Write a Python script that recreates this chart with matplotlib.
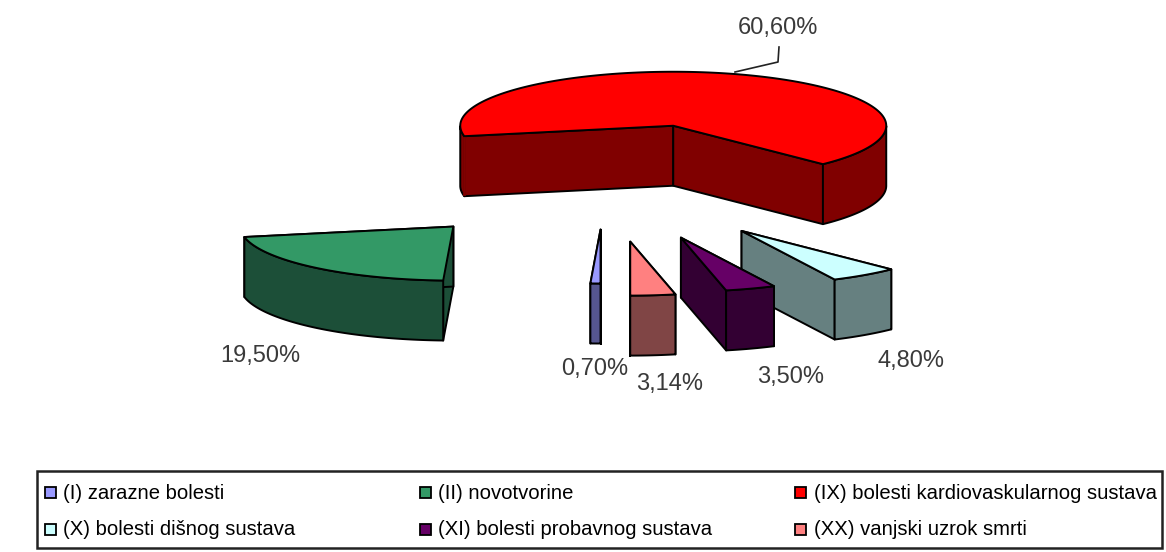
#!/usr/bin/python3
import numpy as np
import matplotlib
matplotlib.use('Agg')
import matplotlib.pyplot as plt
from matplotlib.patches import Polygon, Rectangle

plt.rcParams['font.family'] = ['Liberation Sans', 'DejaVu Sans']

# Share of deaths per disease group, in pie order (clockwise from six o'clock)
categories = ['(I) zarazne bolesti', '(II) novotvorine',
              '(IX) bolesti kardiovaskularnog sustava',
              '(X) bolesti dišnog sustava', '(XI) bolesti probavnog sustava',
              '(XX) vanjski uzrok smrti']
values = [0.70, 19.50, 60.60, 4.80, 3.50, 3.14]
value_labels = ['0,70%', '19,50%', '60,60%', '4,80%', '3,50%', '3,14%']

top_colors = ['#9999FF', '#339966', '#FF0000', '#CCFFFF', '#660066', '#FF8080']
side_colors = ['#565690', '#1C4F38', '#800000', '#668080', '#330033', '#804545']

# How far each slice is pulled out of the pie, in radii
explode = [0.88, 1.09, 1.09, 1.11, 1.09, 1.11]

# Pie geometry in pixels
cx, cy = 605, 182
rx, ry = 213, 54
depth = 60

label_pos = [(595, 369), (260, 356), (778, 28), (911, 361), (791, 377), (670, 384)]

# Legend layout, left to right then top to bottom
legend_x = [45, 420, 795]
legend_text_x = [63, 438, 814]
legend_y = [492, 529]
legend_base = [499, 535]


def ell(t):
    # point on the unit pie for an angle in degrees, y goes down on screen
    t = np.radians(t)
    return np.column_stack([rx * np.cos(t), -ry * np.sin(t)])


def draw_slice(ax, start, end, off, top, side):
    mid = (start + end) / 2
    apex = np.array([cx, cy]) + off * ell(mid)[0]
    arc = apex + ell(np.linspace(start, end, 200))
    drop = np.array([0, depth])
    kw = dict(ec='black', lw=1.4, joinstyle='round')

    # the two cut faces first, the top covers whichever one points backwards
    for p in (arc[0], arc[-1]):
        ax.add_patch(Polygon([apex, p, p + drop, apex + drop], fc=side, **kw))

    # outer rim, only the part on the near half of the pie
    front = np.sin(np.radians(np.linspace(start, end, 200))) <= 0
    idx = np.flatnonzero(front)
    if len(idx):
        runs = np.split(idx, np.flatnonzero(np.diff(idx) > 1) + 1)
        for r in runs:
            ax.add_patch(Polygon(np.vstack([arc[r], arc[r][::-1] + drop]), fc=side, **kw))

    ax.add_patch(Polygon(np.vstack([apex, arc]), fc=top, **kw))
    return arc


fig = plt.figure(figsize=(11.66, 5.52), dpi=100)
ax = fig.add_axes([0, 0, 1, 1])
ax.set_xlim(0, 1166)
ax.set_ylim(552, 0)
ax.axis('off')

# The angles come from the values, slices go clockwise from the bottom
sweep = 360 * np.array(values) / np.sum(values)
stops = -90 - np.concatenate([[0], np.cumsum(sweep)])

# back to front so the purple slice sits over the pale one
for i in [2, 1, 3, 4, 5, 0]:
    arc = draw_slice(ax, stops[i], stops[i + 1], explode[i], top_colors[i], side_colors[i])
    if i == 2:
        # no seam on the short bit of rim at the far left of the big slice
        ax.plot([arc[0, 0]] * 2, [arc[0, 1] + 2, arc[0, 1] + depth - 2],
                color=side_colors[i], lw=2)

# Value labels
for txt, (x, y) in zip(value_labels, label_pos):
    ax.text(x, y, txt, fontsize=17, color='#3a3a3a', ha='center', va='center')

# Leader line for the big slice
ax.plot([735, 778, 779], [72, 62, 47], color='#222222', lw=1.2)

# Legend
ax.add_patch(Rectangle((37, 471), 1125, 77, fc='white', ec='#222222', lw=1.8))
for i, name in enumerate(categories):
    col, row = i % 3, i // 3
    ax.add_patch(Rectangle((legend_x[col], legend_y[row] - 5.5), 11, 11,
                           fc=top_colors[i], ec='black', lw=1.3))
    ax.text(legend_text_x[col], legend_base[row], name, fontsize=14.6, color='black',
            ha='left', va='baseline')

fig.savefig('out.png', dpi=100)
